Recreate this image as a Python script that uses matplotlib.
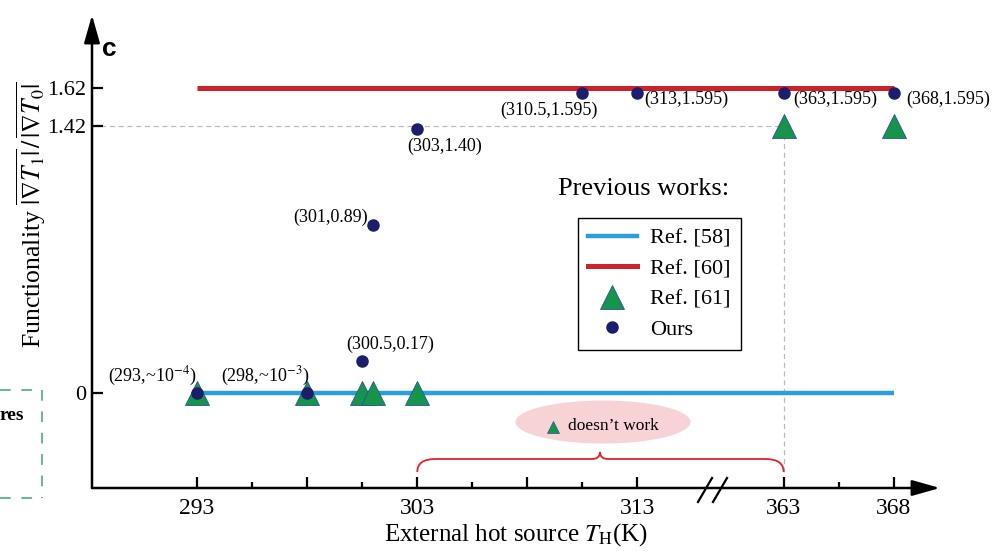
import numpy as np
import matplotlib
matplotlib.use("Agg")
import matplotlib.pyplot as plt
from matplotlib.patches import Ellipse
from matplotlib.path import Path
from matplotlib.patches import PathPatch
from matplotlib.lines import Line2D

plt.rcParams['font.family'] = ['Liberation Serif', 'DejaVu Serif']
plt.rcParams['mathtext.fontset'] = 'stix'

# data
ref58_x = [293, 368]
ref58_y = [0, 0]
ref60_x = [293, 368]
ref60_y = [1.62, 1.62]
ref61_x = [293, 298, 300.5, 301, 303, 363, 368]
ref61_y = [0, 0, 0, 0, 0, 1.42, 1.42]
ours_x = [293, 298, 300.5, 301, 303, 310.5, 313, 363, 368]
ours_y = [1e-4, 1e-3, 0.17, 0.89, 1.40, 1.595, 1.595, 1.595, 1.595]
ours_lbl = [r'(293,~10$^{-4}$)', r'(298,~10$^{-3}$)', '(300.5,0.17)', '(301,0.89)',
            '(303,1.40)', '(310.5,1.595)', '(313,1.595)', '(363,1.595)', '(368,1.595)']
# label offsets (points) and alignment
lbl_off = [(-32, 12), (-30, 12), (20, 12), (-31, 6), (20, -12), (-24, -13), (5, -5), (7, -5), (9, -5)]
lbl_ha = ['center', 'center', 'center', 'center', 'center', 'center', 'left', 'left', 'left']

xticks_major = [293, 298, 303, 308, 313, 363, 368]
xtick_labels = ['293', '', '303', '', '313', '363', '368']
xticks_minor = [295.5, 300.5, 305.5, 310.5, 365.5]
yticks = [0, 1.42, 1.62]
ytick_labels = ['0', '1.42', '1.62']

BLUE = '#2b9fdc'
RED = '#cc2229'
GREEN = '#15954a'
NAVY = '#1d1d6e'

# broken x axis: squeeze 313..363 into a short stretch
LO, HI = 313.0, 363.0
GAPW = 146 / 22.0


def fwd(x):
    x = np.asarray(x, dtype=float)
    return np.where(x <= LO, x, np.where(x >= HI, x - (HI - LO) + GAPW,
                                         LO + (x - LO) * GAPW / (HI - LO)))


def inv(u):
    u = np.asarray(u, dtype=float)
    return np.where(u <= LO, u, np.where(u >= LO + GAPW, u + (HI - LO) - GAPW,
                                         LO + (u - LO) * (HI - LO) / GAPW))


fig = plt.figure(figsize=(9.94, 5.55), dpi=100)
ax = fig.add_axes([92 / 994, 67 / 555, 848 / 994, 473 / 555])
ax.set_xscale('function', functions=(fwd, inv))
ax.set_xlim(288.23, 370.1)
ax.set_ylim(-0.5045, 2.007)
for s in ax.spines.values():
    s.set_visible(False)
ax.patch.set_alpha(0)

# axes with arrows
arrow = dict(arrowstyle='-|>,head_length=0.85,head_width=0.24', lw=1.8, color='black',
             mutation_scale=20, shrinkA=0, shrinkB=0)
ax.annotate('', xy=(1, 0), xytext=(0, 0), xycoords='axes fraction', arrowprops=arrow)
ax.annotate('', xy=(0, 1), xytext=(0, 0), xycoords='axes fraction', arrowprops=arrow)

ax.set_xticks(xticks_major)
ax.set_xticklabels(xtick_labels)
ax.set_xticks(xticks_minor, minor=True)
ax.set_yticks(yticks)
ax.set_yticklabels(ytick_labels)
ax.tick_params(axis='x', which='major', direction='in', length=8, width=1.6, labelsize=17, pad=7)
ax.tick_params(axis='x', which='minor', direction='in', length=4, width=1.6)
ax.tick_params(axis='y', direction='in', length=8, width=1.6, labelsize=16, pad=4)

# guide lines
ax.plot([288.23, 363], [1.42, 1.42], color='#bbbbbb', lw=0.9, ls=(0, (4, 3)), zorder=1)
ax.plot([363, 363], [1.42, -0.42], color='#bbbbbb', lw=0.9, ls=(0, (4, 3)), zorder=1)

ax.plot(ref58_x, ref58_y, color=BLUE, lw=3.2, zorder=2, solid_capstyle='butt')
ax.plot(ref60_x, ref60_y, color=RED, lw=3.6, zorder=2, solid_capstyle='butt')
ax.plot(ref61_x, ref61_y, ls='none', marker='^', ms=17, mfc=GREEN, mec='#2a52a0',
        mew=0.6, zorder=3)
ax.plot(ours_x, ours_y, ls='none', marker='o', ms=8, mfc=NAVY, mec=NAVY, zorder=4)

for x, y, t, off, ha in zip(ours_x, ours_y, ours_lbl, lbl_off, lbl_ha):
    ax.annotate(t, (x, y), xytext=off, textcoords='offset points', ha=ha, va='center',
                fontsize=13)

# x-axis break mark (pixel coordinates, origin bottom-left)
for dx in (0, 15):
    ax.plot([698 + dx, 712 + dx], [555 - 502, 555 - 478], color='black', lw=1.6,
            transform=None, clip_on=False)

# legend
handles = [Line2D([], [], color=BLUE, lw=3.2),
           Line2D([], [], color=RED, lw=3.6),
           Line2D([], [], ls='none', marker='^', ms=17, mfc=GREEN, mec='#2a52a0', mew=0.6),
           Line2D([], [], ls='none', marker='o', ms=8, mfc=NAVY, mec=NAVY)]
leg = ax.legend(handles, ['Ref. [58]', 'Ref. [60]', 'Ref. [61]', 'Ours'],
                loc='upper left', bbox_to_anchor=(0.573, 0.571), borderaxespad=0,
                fontsize=16, frameon=True, fancybox=False, edgecolor='black', framealpha=1,
                handlelength=2.2, handletextpad=0.6, labelspacing=0.45, borderpad=0.45)
leg.get_frame().set_linewidth(1.0)
ax.text(0.651, 0.632, 'Previous works:', transform=ax.transAxes, ha='center',
        va='center', fontsize=19)

# "doesn't work" note
ax.add_patch(Ellipse((0.6026, 0.1395), 175 / 848, 43 / 473, transform=ax.transAxes,
                     facecolor='#f7d3d6', edgecolor='none', zorder=1))
ax.plot([(553 - 92) / 848], [(488 - 427) / 473], marker='^', ms=9, mfc=GREEN,
        mec='#2a52a0', mew=0.5, transform=ax.transAxes, ls='none')
ax.text((568 - 92) / 848, (488 - 426) / 473, 'doesn\u2019t work', transform=ax.transAxes,
        ha='left', va='center', fontsize=12.5)

# curly brace over 303..363
fig.canvas.draw()
px0 = ax.transData.transform((303, 0))[0]
px1 = ax.transData.transform((363, 0))[0]
pm = 600.0
yb, yh, yt = 555 - 472, 555 - 459, 555 - 452
verts = [(px0, yb), (px0, yh), (px0 + 18, yh),
         (pm - 8, yh), (pm, yh), (pm, yt),
         (pm, yh), (pm + 8, yh),
         (px1 - 18, yh), (px1, yh), (px1, yb)]
codes = [Path.MOVETO, Path.CURVE3, Path.CURVE3,
         Path.LINETO, Path.CURVE3, Path.CURVE3,
         Path.CURVE3, Path.CURVE3,
         Path.LINETO, Path.CURVE3, Path.CURVE3]
brace = PathPatch(Path(verts, codes), transform=None, facecolor='none',
                  edgecolor='#ee1c24', lw=1.3, clip_on=False)
fig.add_artist(brace)

ax.set_xlabel(r'External hot source $T_{\rm H}$(K)', fontsize=18, labelpad=2)
ax.set_ylabel(r'Functionality $\overline{|\nabla T_1|}\,/\,\overline{|\nabla T_0|}$',
              fontsize=18.5)
ax.yaxis.set_label_coords(-0.052, 0.577)

# panel letter
fig.text(109 / 994, 1 - 49 / 555, 'c', fontsize=19, fontweight='bold',
         family='Liberation Sans', ha='center', va='center')

# fragment of neighbouring panel
fig.text(0.0, 1 - 415 / 555, 'res', fontsize=14, fontweight='bold', ha='left', va='center')
dash = dict(color='#3aa86a', lw=1.1, ls=(0, (7, 7)), transform=None)
fig.add_artist(Line2D([0, 42], [555 - 390, 555 - 390], **dash))
fig.add_artist(Line2D([42, 42], [555 - 390, 555 - 498], **dash))
fig.add_artist(Line2D([0, 42], [555 - 498, 555 - 498], **dash))

fig.savefig('out.png', dpi=100)
